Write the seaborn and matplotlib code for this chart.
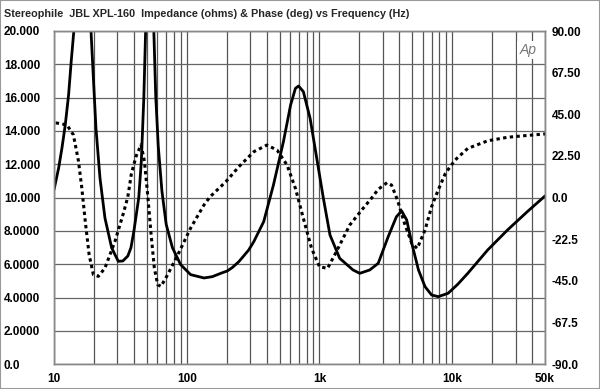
import matplotlib
matplotlib.use("Agg")
import matplotlib.pyplot as plt
import seaborn as sns
import pandas as pd
from matplotlib.patches import Rectangle

# Impedance (ohms)
imp_freq = [10, 10.84, 11.48, 12.16, 12.88, 13.48, 14.1, 15.0, 16.0, 17.0, 18.0, 19.0,
            19.8, 20.7, 22.2, 24.2, 27.2, 30.5, 33.0, 36.0, 38.0, 40.0, 43.5, 45.5,
            47.5, 49.0, 50.5, 52.5, 54.5, 56.5, 58.4, 61.0, 65.0, 70.0, 78.0, 90.0,
            107, 135, 156, 186, 202, 220, 247, 293, 320, 380, 450, 535, 606, 659, 696,
            756, 850, 954, 1070, 1200, 1420, 1790, 2010, 2390, 2770, 3290, 3800, 4160,
            4540, 4960, 5570, 6240, 6990, 7840, 9310, 11000, 13100, 18500, 26100,
            36800, 50000]
imp_ohms = [10.47, 11.78, 12.98, 14.37, 16.17, 18.18, 19.98, 24.0, 29.0, 30.0, 26.0, 20.0,
            17.18, 14.18, 11.18, 8.78, 6.98, 6.18, 6.2, 6.5, 7.0, 8.0, 10.0, 12.2,
            16.0, 20.0, 26.0, 32.0, 28.0, 20.0, 16.1, 13.1, 10.4, 8.4, 7.0, 5.98,
            5.38, 5.18, 5.26, 5.5, 5.6, 5.8, 6.16, 6.86, 7.36, 8.56, 10.76, 13.36,
            15.56, 16.56, 16.7, 16.36, 14.76, 12.36, 9.96, 7.76, 6.36, 5.66, 5.46,
            5.66, 6.06, 7.65, 8.86, 9.2, 8.66, 7.26, 5.66, 4.66, 4.16, 4.06, 4.26,
            4.8, 5.46, 6.86, 8.06, 9.16, 10.1]

# Phase (deg)
ph_freq = [10.3, 10.5, 12.5, 14.0, 15.3, 16.2, 17.2, 18.4, 19.8, 21.6, 24.2, 28.8, 33.3,
           36.0, 38.3, 41.6, 45.3, 48.0, 50.8, 53.9, 57.0, 60.4, 64.0, 71.8, 85.6, 107,
           135, 150, 197, 247, 320, 402, 479, 570, 659, 756, 872, 1000, 1150, 1340,
           1690, 2130, 2460, 2770, 3230, 3490, 3870, 4370, 4960, 5450, 6240, 6990,
           7840, 8880, 10500, 13100, 18500, 26100, 36800, 50000]
ph_deg = [40.3, 40.3, 39.3, 33.9, 19.6, 5.2, -12.8, -30.9, -41.6, -42.5, -38.0, -23.6,
          -8.5, 0.5, 13.0, 22.5, 28.6, 19.6, 1.5, -20.0, -38.0, -47.0, -47.9, -41.6,
          -30.9, -16.4, -3.9, 0.5, 8.6, 16.7, 24.8, 28.4, 25.7, 17.6, 5.0, -11.2,
          -27.4, -37.3, -38.2, -29.2, -14.8, -5.8, -0.4, 4.5, 8.1, 6.8, -1.3, -13.9,
          -24.7, -27.4, -17.5, -4.9, 4.1, 13.1, 20.3, 26.6, 30.7, 32.6, 33.6, 34.4]

x_ticks = [10, 100, 1000, 10000, 50000]
x_labels = ['10', '100', '1k', '10k', '50k']
left_labels = ['0.0', '2.0000', '4.0000', '6.0000', '8.0000', '10.000', '12.000',
               '14.000', '16.000', '18.000', '20.000']
right_labels = ['-90.0', '-67.5', '-45.0', '-22.5', '0.0', '22.50', '45.00', '67.50', '90.00']

sns.set_theme(style='white')
plt.rcParams['font.family'] = ['Liberation Sans', 'DejaVu Sans']

df_imp = pd.DataFrame({'freq': imp_freq, 'ohms': imp_ohms})
df_ph = pd.DataFrame({'freq': ph_freq, 'deg': ph_deg})

fig = plt.figure(figsize=(6, 3.89), dpi=100)
ax = fig.add_axes([54/600, 1 - 364.3/389, 491/600, 333.3/389])
ax2 = ax.twinx()

sns.lineplot(data=df_imp, x='freq', y='ohms', ax=ax, color='black', lw=2.0, sort=False,
             solid_joinstyle='round')
sns.lineplot(data=df_ph, x='freq', y='deg', ax=ax2, color='black', lw=2.2, sort=False,
             linestyle=(0, (1.1, 1.1)))

for a in (ax, ax2):
    a.set_xscale('log')
    a.set_xlim(10, 50000)
    a.set_xlabel('')
    a.set_ylabel('')
ax.set_ylim(0, 20)
ax2.set_ylim(-90, 90)

minor = [m * d for d in (10, 100, 1000, 10000) for m in range(2, 10) if m * d < 50000]
ax.set_xticks(x_ticks)
ax.set_xticklabels(x_labels)
ax.set_xticks(minor, minor=True)
ax.set_xticklabels([], minor=True)
ax.set_yticks(range(0, 21, 2))
ax.set_yticklabels(left_labels)
ax2.set_yticks([-90 + 22.5 * i for i in range(9)])
ax2.set_yticklabels(right_labels)

ax.grid(True, which='both', axis='x', color='#555555', lw=0.9)
ax.grid(True, which='major', axis='y', color='#666666', lw=0.9)
ax.set_axisbelow(True)
ax2.grid(False)

ax.tick_params(axis='x', which='both', length=0, pad=6, labelsize=8.5)
ax.tick_params(axis='y', length=0, pad=36, labelsize=8.5)
ax2.tick_params(axis='y', length=0, pad=5, labelsize=8.5)
for lab in ax.get_yticklabels():
    lab.set_horizontalalignment('left')
for lab in ax.get_xticklabels() + ax.get_yticklabels() + ax2.get_yticklabels():
    lab.set_fontweight('bold')
    lab.set_color('black')

for a in (ax, ax2):
    for s in a.spines.values():
        s.set_color('#888888')
        s.set_linewidth(1.0)

ax2.text(0.965, 0.965, 'Ap', transform=ax.transAxes, ha='center', va='top',
         fontsize=10, style='italic', color='#777777',
         bbox=dict(facecolor='white', edgecolor='none', pad=1.5))

fig.text(4/600, 1 - 14/389, 'Stereophile  JBL XPL-160  Impedance (ohms) & Phase (deg) vs Frequency (Hz)',
         ha='left', va='center', fontsize=7.8, fontweight='bold')

fig.patches.append(Rectangle((0, 0), 1, 1, transform=fig.transFigure, fill=False,
                             edgecolor='#999999', lw=1.5))

fig.savefig('out.png', dpi=100)
